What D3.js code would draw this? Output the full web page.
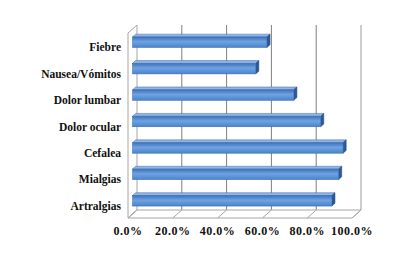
<!DOCTYPE html>
<html><head><meta charset="utf-8">
<script src="https://cdn.jsdelivr.net/npm/d3@7"></script>
<style>body{margin:0;background:#fff}svg{display:block}</style>
</head><body>
<script>
const categories = ["Fiebre","Nausea/Vómitos","Dolor lumbar","Dolor ocular","Cefalea","Mialgias","Artralgias"];
const values = [0.60,0.55,0.72,0.84,0.94,0.92,0.89];
const tickValues = [0,0.2,0.4,0.6,0.8,1.0];

const W=411,H=259;
const svg=d3.select("body").append("svg").attr("width",W).attr("height",H);
const defs=svg.append("defs");
const g1=defs.append("linearGradient").attr("id","bf").attr("x1",0).attr("y1",0).attr("x2",0).attr("y2",1);
g1.append("stop").attr("offset","0%").attr("stop-color","#3E72BA");
g1.append("stop").attr("offset","45%").attr("stop-color","#6FA3E2");
g1.append("stop").attr("offset","100%").attr("stop-color","#4A82CB");

const x=d3.scaleLinear().domain([0,1]).range([128,352]);
const y=d3.scaleBand().domain(categories).range([33,218]).paddingInner(0.6).paddingOuter(0.3);
const DX=9, DY=-8;
const off=t=>[DX*t,DY*t];
const yTop=33,yBot=218;
const line=d3.line();
const FONT="'Liberation Serif','Times New Roman',Times,serif";

tickValues.forEach(v=>{
  if(v===0) return;
  const [ox,oy]=off(1);
  svg.append("line").attr("x1",x(v)+ox).attr("x2",x(v)+ox).attr("y1",yTop+oy).attr("y2",yBot+oy)
    .attr("stroke",v===1?"#9a9a9a":"#7f7f7f").attr("stroke-width",1);
});
{
  const [ox,oy]=off(1);
  svg.append("path").attr("d",line([[x(0),yTop],[x(0)+ox,yTop+oy],[x(0)+ox,yBot+oy],[x(0),yBot],[x(0),yTop]]))
    .attr("fill","#fff").attr("stroke","#a6a6a6").attr("stroke-width",1);
}
{
  const [ox,oy]=off(1);
  svg.append("path").attr("d",line([[x(0),yBot],[x(1),yBot],[x(1)+ox,yBot+oy],[x(0)+ox,yBot+oy],[x(0),yBot]]))
    .attr("fill","#fff").attr("stroke","#a6a6a6").attr("stroke-width",1);
  tickValues.forEach(v=>{
    svg.append("line").attr("x1",x(v)).attr("y1",yBot).attr("x2",x(v)+ox).attr("y2",yBot+oy)
      .attr("stroke","#a6a6a6").attr("stroke-width",1);
  });
}
const t0=0.5,t1=0.85;
categories.forEach((c,i)=>{
  const v=values[i];
  const [fx,fy]=off(t0),[bx,by]=off(t1);
  const x0=x(0)+fx, x1=x(v)+fx, yt=y(c)+fy, yb=y(c)+y.bandwidth()+fy;
  const ddx=bx-fx, ddy=by-fy;
  svg.append("path").attr("d",line([[x0,yt],[x1,yt],[x1+ddx,yt+ddy],[x0+ddx,yt+ddy]])+"Z")
    .attr("fill","#8FB6E6").attr("stroke","#3A6AAE").attr("stroke-width",0.5);
  svg.append("path").attr("d",line([[x1,yt],[x1+ddx,yt+ddy],[x1+ddx,yb+ddy],[x1,yb]])+"Z")
    .attr("fill","#2D5A96").attr("stroke","#244d85").attr("stroke-width",0.5);
  svg.append("rect").attr("x",x0).attr("y",yt).attr("width",x1-x0).attr("height",yb-yt)
    .attr("fill","url(#bf)").attr("stroke","#3A6AAE").attr("stroke-width",0.5);
});
svg.selectAll("text.cat").data(categories).enter().append("text").attr("class","cat")
  .attr("x",121).attr("y",d=>y(d)+y.bandwidth()/2+1).attr("dy","0.35em")
  .attr("text-anchor","end").attr("font-family",FONT)
  .attr("font-weight","bold").attr("font-size","11.5px").attr("fill","#111").text(d=>d);
const fmt=d3.format(".1%");
svg.selectAll("text.tick").data(tickValues).enter().append("text").attr("class","tick")
  .attr("x",d=>x(d)).attr("y",231).attr("dy","0.35em").attr("text-anchor","middle")
  .attr("font-family",FONT)
  .attr("font-weight","bold").attr("font-size","12px").attr("letter-spacing","0.5px").attr("fill","#111").text(d=>fmt(d));
</script>
</body></html>
